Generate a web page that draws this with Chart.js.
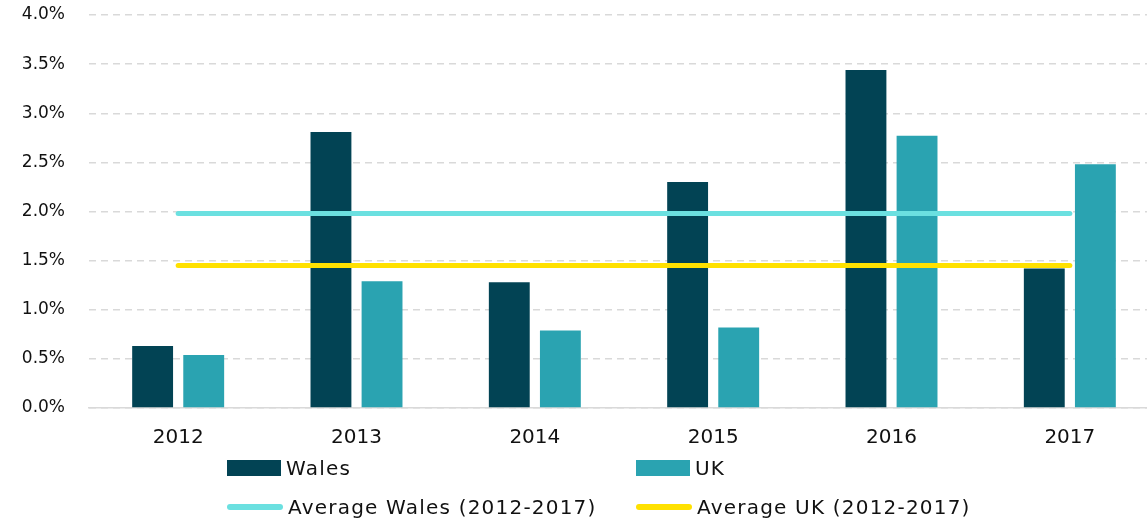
<!DOCTYPE html>
<html>
<head>
<meta charset="utf-8">
<script src="https://cdn.jsdelivr.net/npm/chart.js@4/dist/chart.umd.min.js"></script>
<style>
  html, body { margin:0; padding:0; background:#fff; overflow:hidden; width:1147px; height:519px; }
  #wrap { position:relative; width:1160px; height:519px; }
  #c { position:absolute; left:0; top:0; }
  .lg { position:absolute; font-family:"DejaVu Sans", sans-serif; font-size:20px; letter-spacing:1.2px; color:#111; display:flex; align-items:center; white-space:nowrap; }
  .lg .sw { display:inline-block; margin-right:5px; }
</style>
</head>
<body>
<div id="wrap">
  <canvas id="c" width="1160" height="519"></canvas>
  <div id="legend"></div>
</div>
<script>
const categories = ["2012", "2013", "2014", "2015", "2016", "2017"];
const walesValues = [0.63, 2.81, 1.28, 2.30, 3.44, 1.42];
const ukValues = [0.54, 1.29, 0.79, 0.82, 2.77, 2.48];
const avgWalesValues = [1.98, 1.98, 1.98, 1.98, 1.98, 1.98];
const avgUkValues = [1.45, 1.45, 1.45, 1.45, 1.45, 1.45];
const yTickLabels = ["0.0%", "0.5%", "1.0%", "1.5%", "2.0%", "2.5%", "3.0%", "3.5%", "4.0%"];

const seriesNames = ["Wales", "UK", "Average Wales (2012-2017)", "Average UK (2012-2017)"];
const COL_WALES = "#024354";
const COL_UK = "#2AA3B1";
const COL_AVG_W = "#6BE0E0";
const COL_AVG_UK = "#FFE100";

const FONT = "'DejaVu Sans', sans-serif";

const ctx = document.getElementById('c').getContext('2d');
const chart = new Chart(ctx, {
  type: 'bar',
  data: {
    labels: categories,
    datasets: [
      { type:'bar', label: seriesNames[0], data: walesValues, backgroundColor: COL_WALES, order: 2,
        categoryPercentage: 0.573, barPercentage: 0.80 },
      { type:'bar', label: seriesNames[1], data: ukValues, backgroundColor: COL_UK, order: 2,
        categoryPercentage: 0.573, barPercentage: 0.80 },
      { type:'line', label: seriesNames[2], data: avgWalesValues, borderColor: COL_AVG_W, backgroundColor: COL_AVG_W,
        borderWidth: 5, pointRadius: 0, borderCapStyle: 'round', order: 1 },
      { type:'line', label: seriesNames[3], data: avgUkValues, borderColor: COL_AVG_UK, backgroundColor: COL_AVG_UK,
        borderWidth: 5, pointRadius: 0, borderCapStyle: 'round', order: 0 }
    ]
  },
  options: {
    responsive: false,
    maintainAspectRatio: false,
    animation: false,
    layout: { padding: { left: 0, right: 1, top: 15, bottom: 0 } },
    plugins: { legend: { display: false }, tooltip: { enabled: false } },
    scales: {
      x: {
        offset: true,
        grid: { display: false, drawTicks: false },
        border: { display: true, color: '#d9d9d9', width: 1.5 },
        ticks: { color: '#111', font: { family: FONT, size: 20 }, padding: 18, maxRotation: 0 },
        afterFit: (s) => { s.height = 111; }
      },
      y: {
        min: 0, max: 4,
        grid: { color: '#d9d9d9', lineWidth: 1.5, drawTicks: true, tickLength: 24, tickColor: 'rgba(0,0,0,0)' },
        border: { display: false, dash: [7, 5] },
        ticks: {
          stepSize: 0.5,
          color: '#111',
          font: { family: FONT, size: 17 },
          padding: 0,
          callback: (v, i) => yTickLabels[i]
        },
        afterFit: (s) => { s.width = 89; }
      }
    }
  }
});

// HTML legend built from dataset metadata
const legend = document.getElementById('legend');
const legendPos = [
  { left: 227, top: 456, kind: 'box' },
  { left: 636, top: 456, kind: 'box' },
  { left: 227, top: 495, kind: 'line' },
  { left: 636, top: 495, kind: 'line' }
];
chart.data.datasets.forEach((ds, i) => {
  const p = legendPos[i];
  const item = document.createElement('div');
  item.className = 'lg';
  item.style.left = p.left + 'px';
  item.style.top = p.top + 'px';
  item.style.height = '24px';
  const sw = document.createElement('span');
  sw.className = 'sw';
  if (p.kind === 'box') {
    sw.style.width = '54px'; sw.style.height = '16px'; sw.style.background = ds.backgroundColor;
  } else {
    sw.style.width = '56px'; sw.style.height = '6px'; sw.style.background = ds.borderColor; sw.style.borderRadius = '3px';
  }
  item.appendChild(sw);
  const t = document.createElement('span');
  t.textContent = ds.label;
  item.appendChild(t);
  legend.appendChild(item);
});
</script>
</body>
</html>
